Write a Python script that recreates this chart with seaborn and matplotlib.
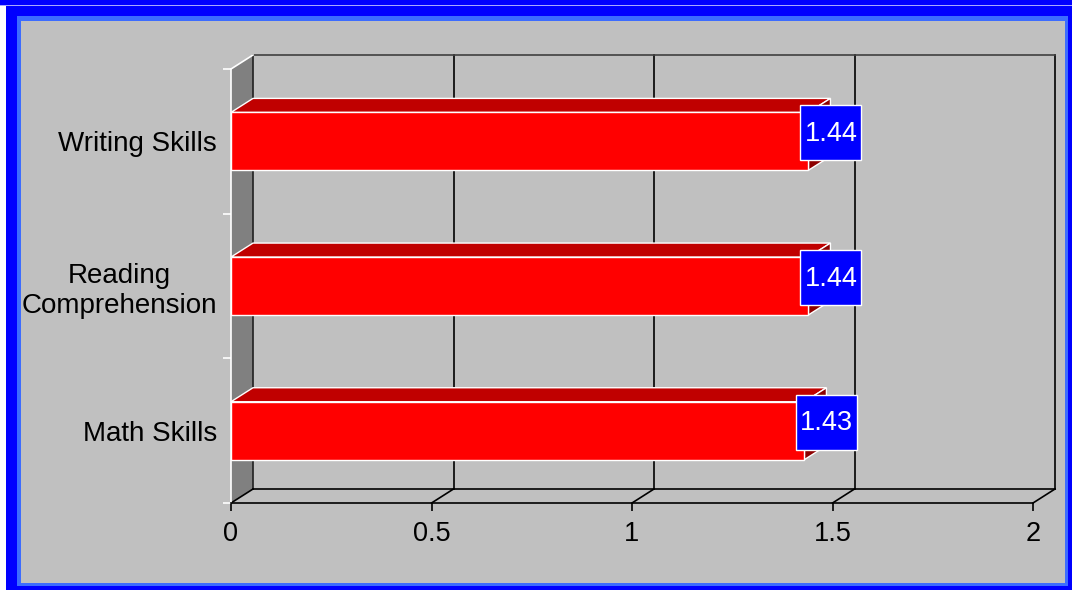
import matplotlib
matplotlib.use('Agg')
import matplotlib.pyplot as plt
from matplotlib import font_manager
from matplotlib.patches import Polygon, Rectangle
import pandas as pd
import seaborn as sns

# data
skills = ['Writing Skills', 'Reading\nComprehension', 'Math Skills']
scores = [1.44, 1.44, 1.43]
score_labels = ['1.44', '1.44', '1.43']
x_ticks = [0, 0.5, 1, 1.5, 2]
x_tick_labels = ['0', '0.5', '1', '1.5', '2']

df = pd.DataFrame({'skill': skills, 'score': scores})

W, H = 1072, 590
plt.rcParams['font.family'] = ['Liberation Sans', 'DejaVu Sans']

fig = plt.figure(figsize=(W / 100, H / 100), dpi=100)
fig.patch.set_facecolor('white')


def frame_rect(x, y, w, h, color):
    # pixel box (top-down) -> figure fraction
    fig.patches.append(Rectangle((x / W, 1 - (y + h) / H), w / W, h / H,
                                 transform=fig.transFigure, color=color,
                                 lw=0, zorder=-10))


# blue border frame
frame_rect(0, 0, W, 6, '#0000ff')
frame_rect(0, 5, W, 1, '#a8a8ff')
frame_rect(6, 6, W - 6, H - 6, '#0000ff')
frame_rect(17, 16, 1068 - 17, 586 - 16, '#3c6cff')
frame_rect(21, 21, 1065 - 21, 583 - 21, '#c0c0c0')

# front plane of the plot: value 0..2 -> x 231..1033, categories y 69..503
ax = fig.add_axes([231 / W, (H - 503) / H, 802 / W, 434 / H])
ax.patch.set_visible(False)

sns.barplot(data=df, x='score', y='skill', orient='h', width=0.4,
            color='#ff0000', edgecolor='white', linewidth=1,
            saturation=1, ax=ax, zorder=2)
ax.set_xlim(0, 2)
ax.set_ylim(2.5, -0.5)

ux = 802 / 2.0
uy = 434 / 3.0
dx = 22 / ux
dy = -14 / uy

# left wall
ax.add_patch(Polygon([(0, -0.5), (dx, -0.5 + dy), (dx, 2.5 + dy), (0, 2.5)],
                     closed=True, facecolor='#808080', edgecolor='none',
                     zorder=0.3, clip_on=False))
ax.plot([0, dx], [-0.5, -0.5 + dy], color='white', lw=1.2, zorder=0.6, clip_on=False)
ax.plot([dx, dx], [-0.5 + dy, 2.5 + dy], color='#202020', lw=1.2, zorder=0.5, clip_on=False)

# back wall grid and edges
for t in x_ticks[1:]:
    ax.plot([t + dx, t + dx], [-0.5 + dy, 2.5 + dy], color='black', lw=1.2,
            zorder=0.5, clip_on=False)
ax.plot([dx, 2 + dx], [-0.5 + dy, -0.5 + dy], color='#404040', lw=1.2,
        zorder=0.5, clip_on=False)
ax.plot([dx, 2 + dx], [2.5 + dy, 2.5 + dy], color='black', lw=1.2,
        zorder=0.5, clip_on=False)

# floor diagonals
for t in x_ticks:
    ax.plot([t, t + dx], [2.5, 2.5 + dy], color='black', lw=1.2,
            zorder=0.5, clip_on=False)

# 3d faces of the bars
half = 0.2
for i, v in enumerate(scores):
    top = i - half
    bot = i + half
    ax.add_patch(Polygon([(0, top), (v, top), (v + dx, top + dy), (dx, top + dy)],
                         closed=True, facecolor='#c00000', edgecolor='white',
                         lw=1, zorder=1.5))
    ax.add_patch(Polygon([(v, top), (v + dx, top + dy), (v + dx, bot + dy), (v, bot)],
                         closed=True, facecolor='#8c0000', edgecolor='white',
                         lw=1, zorder=1.5))

# value labels in blue boxes
names = {f.name for f in font_manager.fontManager.ttflist}
if 'Liberation Sans Narrow' in names:
    lab_font, lab_size = 'Liberation Sans Narrow', 22
else:
    lab_font, lab_size = 'Liberation Sans', 19.5

for i, (v, lab) in enumerate(zip(scores, score_labels)):
    bx = v - 8 / ux
    by = i - 36 / uy
    ax.add_patch(Rectangle((bx, by), 61 / ux, 55 / uy, facecolor='#0000ff',
                           edgecolor='white', lw=1, zorder=5, clip_on=False))
    ax.text(v + 22.5 / ux, i - 7.5 / uy, lab, color='white', fontsize=lab_size,
            family=[lab_font, 'DejaVu Sans'], ha='center', va='center',
            zorder=6, clip_on=False)

# axes styling
for s in ['top', 'right']:
    ax.spines[s].set_visible(False)
ax.spines['left'].set_color('white')
ax.spines['left'].set_linewidth(1.2)
ax.spines['bottom'].set_color('black')
ax.spines['bottom'].set_linewidth(1.2)
ax.spines['left'].set_zorder(0.7)

ax.set_xticks(x_ticks, x_tick_labels)
ax.tick_params(axis='x', direction='out', length=5.8, width=1.2, color='black',
               labelsize=19.5, pad=7, labelcolor='black')
ax.set_yticks([-0.5, 0.5, 1.5, 2.5], minor=True)
ax.tick_params(axis='y', which='minor', direction='out', length=5.8, width=1.2,
               color='white')
ax.tick_params(axis='y', which='major', length=0, labelsize=20, pad=10,
               labelcolor='black')
for lbl in ax.get_yticklabels():
    lbl.set_multialignment('center')

ax.set_xlabel('')
ax.set_ylabel('')
ax.grid(False)

fig.savefig('out.png', dpi=100, facecolor=fig.get_facecolor())
